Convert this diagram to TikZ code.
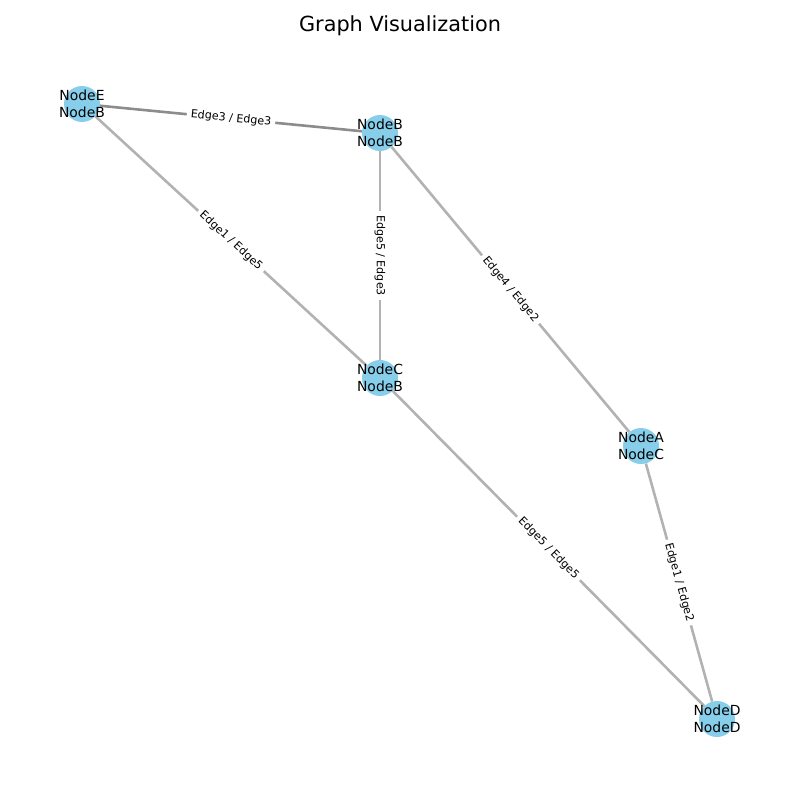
\documentclass[tikz,border=0pt]{standalone}
\usepackage{fontspec}
\setmainfont{DejaVu Sans}
\definecolor{skyb}{RGB}{135,206,235}
\definecolor{edgec}{RGB}{178,178,178}
\definecolor{edged}{RGB}{140,140,140}
\begin{document}
\begin{tikzpicture}[x=1pt,y=-1pt,
  dot/.style={circle,fill=skyb,minimum size=36pt,inner sep=0pt},
  txt/.style={align=center,inner sep=0pt,font=\fontsize{13.9}{16.4}\selectfont},
  edg/.style={draw=edgec,line width=2.6pt},
  edgdark/.style={draw=edged,line width=2.6pt},
  lbl/.style={fill=white,inner xsep=4pt,inner ysep=2pt,text=black,font=\fontsize{11.1}{13}\selectfont}]
\useasboundingbox (0,0) rectangle (800,800);
\node[font=\fontsize{20.8}{24}\selectfont] (title) at (400,26) {Graph Visualization};
\node[dot] (e) at (82,104) {};
\node[dot] (b) at (380,133) {};
\node[dot] (c) at (380,378) {};
\node[dot] (a) at (641,446) {};
\node[dot] (d) at (717,719) {};
\draw[edgdark] (e) -- node[lbl,rotate=-5.56] {Edge3 / Edge3} (b);
\draw[edg] (e) -- node[lbl,rotate=-42.6] {Edge1 / Edge5} (c);
\draw[edg] (b) -- node[lbl,rotate=-90] {Edge5 / Edge3} (c);
\draw[edg] (b) -- node[lbl,rotate=-50.2] {Edge4 / Edge2} (a);
\draw[edg] (c) -- node[lbl,rotate=-45.3] {Edge5 / Edge5} (d);
\draw[edg] (a) -- node[lbl,rotate=-74.4] {Edge1 / Edge2} (d);
\node[txt] (te) at (e) {NodeE\\NodeB};
\node[txt] (tb) at (b) {NodeB\\NodeB};
\node[txt] (tc) at (c) {NodeC\\NodeB};
\node[txt] (ta) at (a) {NodeA\\NodeC};
\node[txt] (td) at (d) {NodeD\\NodeD};
\end{tikzpicture}
\end{document}
